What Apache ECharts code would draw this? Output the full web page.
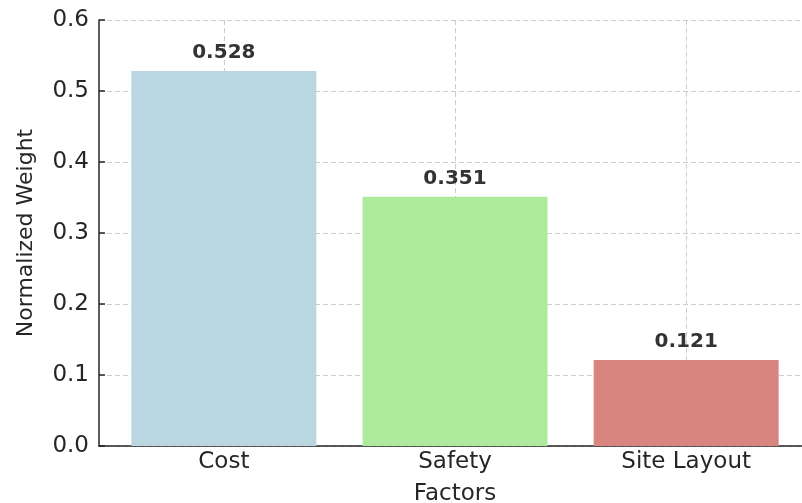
<!DOCTYPE html>
<html>
<head>
<meta charset="utf-8">
<script src="https://cdn.jsdelivr.net/npm/echarts@6/dist/echarts.min.js"></script>
<style>
html,body{margin:0;padding:0;background:#fff;}
#chart{width:802px;height:503px;}
</style>
</head>
<body>
<div id="chart"></div>
<script>
const categories = ['Cost', 'Safety', 'Site Layout'];
const values = [0.528, 0.351, 0.121];
const barColors = ['#BAD7E1', '#AEEA9B', '#D8847F'];
const yTicks = [0, 0.1, 0.2, 0.3, 0.4, 0.5, 0.6];
const xName = 'Factors';
const yName = 'Normalized Weight';

const FONT = 'DejaVu Sans';
const positions = categories.map((c, i) => i);

const chart = echarts.init(document.getElementById('chart'), null, {renderer: 'canvas'});
chart.setOption({
  animation: false,
  backgroundColor: '#ffffff',
  grid: {left: 99, top: 20, width: 712, bottom: 57, containLabel: false, outerBoundsMode: 'none'},
  xAxis: {
    type: 'value',
    min: -0.54,
    max: 2.54,
    name: xName,
    nameLocation: 'middle',
    nameGap: 37,
    nameTextStyle: {fontFamily: FONT, fontSize: 23, color: '#262626'},
    axisLine: {show: true, onZero: false, lineStyle: {color: '#262626', width: 1.5}},
    axisTick: {show: true, inside: true, length: 6, customValues: positions, lineStyle: {color: '#262626', width: 1.5}},
    axisLabel: {
      customValues: positions,
      margin: 5,
      fontFamily: FONT, fontSize: 23, color: '#262626',
      formatter: v => categories[Math.round(v)]
    },
    splitLine: {show: true, lineStyle: {color: '#cccccc', type: [5, 3], width: 1}}
  },
  yAxis: {
    type: 'value',
    min: 0,
    max: 0.6,
    interval: 0.1,
    name: yName,
    nameLocation: 'middle',
    nameGap: 62,
    nameTextStyle: {fontFamily: FONT, fontSize: 22, color: '#262626'},
    axisLine: {show: true, onZero: false, lineStyle: {color: '#262626', width: 1.5}},
    axisTick: {show: true, inside: true, length: 6, lineStyle: {color: '#262626', width: 1.5}},
    axisLabel: {
      margin: 10,
      fontFamily: FONT, fontSize: 23, color: '#262626',
      formatter: v => v.toFixed(1)
    },
    splitLine: {show: true, lineStyle: {color: '#cccccc', type: [5, 3], width: 1}}
  },
  series: [{
    type: 'bar',
    barWidth: 185,
    data: values.map((v, i) => ({value: [positions[i], v], itemStyle: {color: barColors[i]}})),
    label: {
      show: true,
      position: 'top',
      distance: 8,
      fontFamily: FONT,
      fontSize: 20,
      fontWeight: 'bold',
      color: '#333333',
      formatter: p => p.value[1].toFixed(3)
    }
  }]
});
</script>
</body>
</html>
